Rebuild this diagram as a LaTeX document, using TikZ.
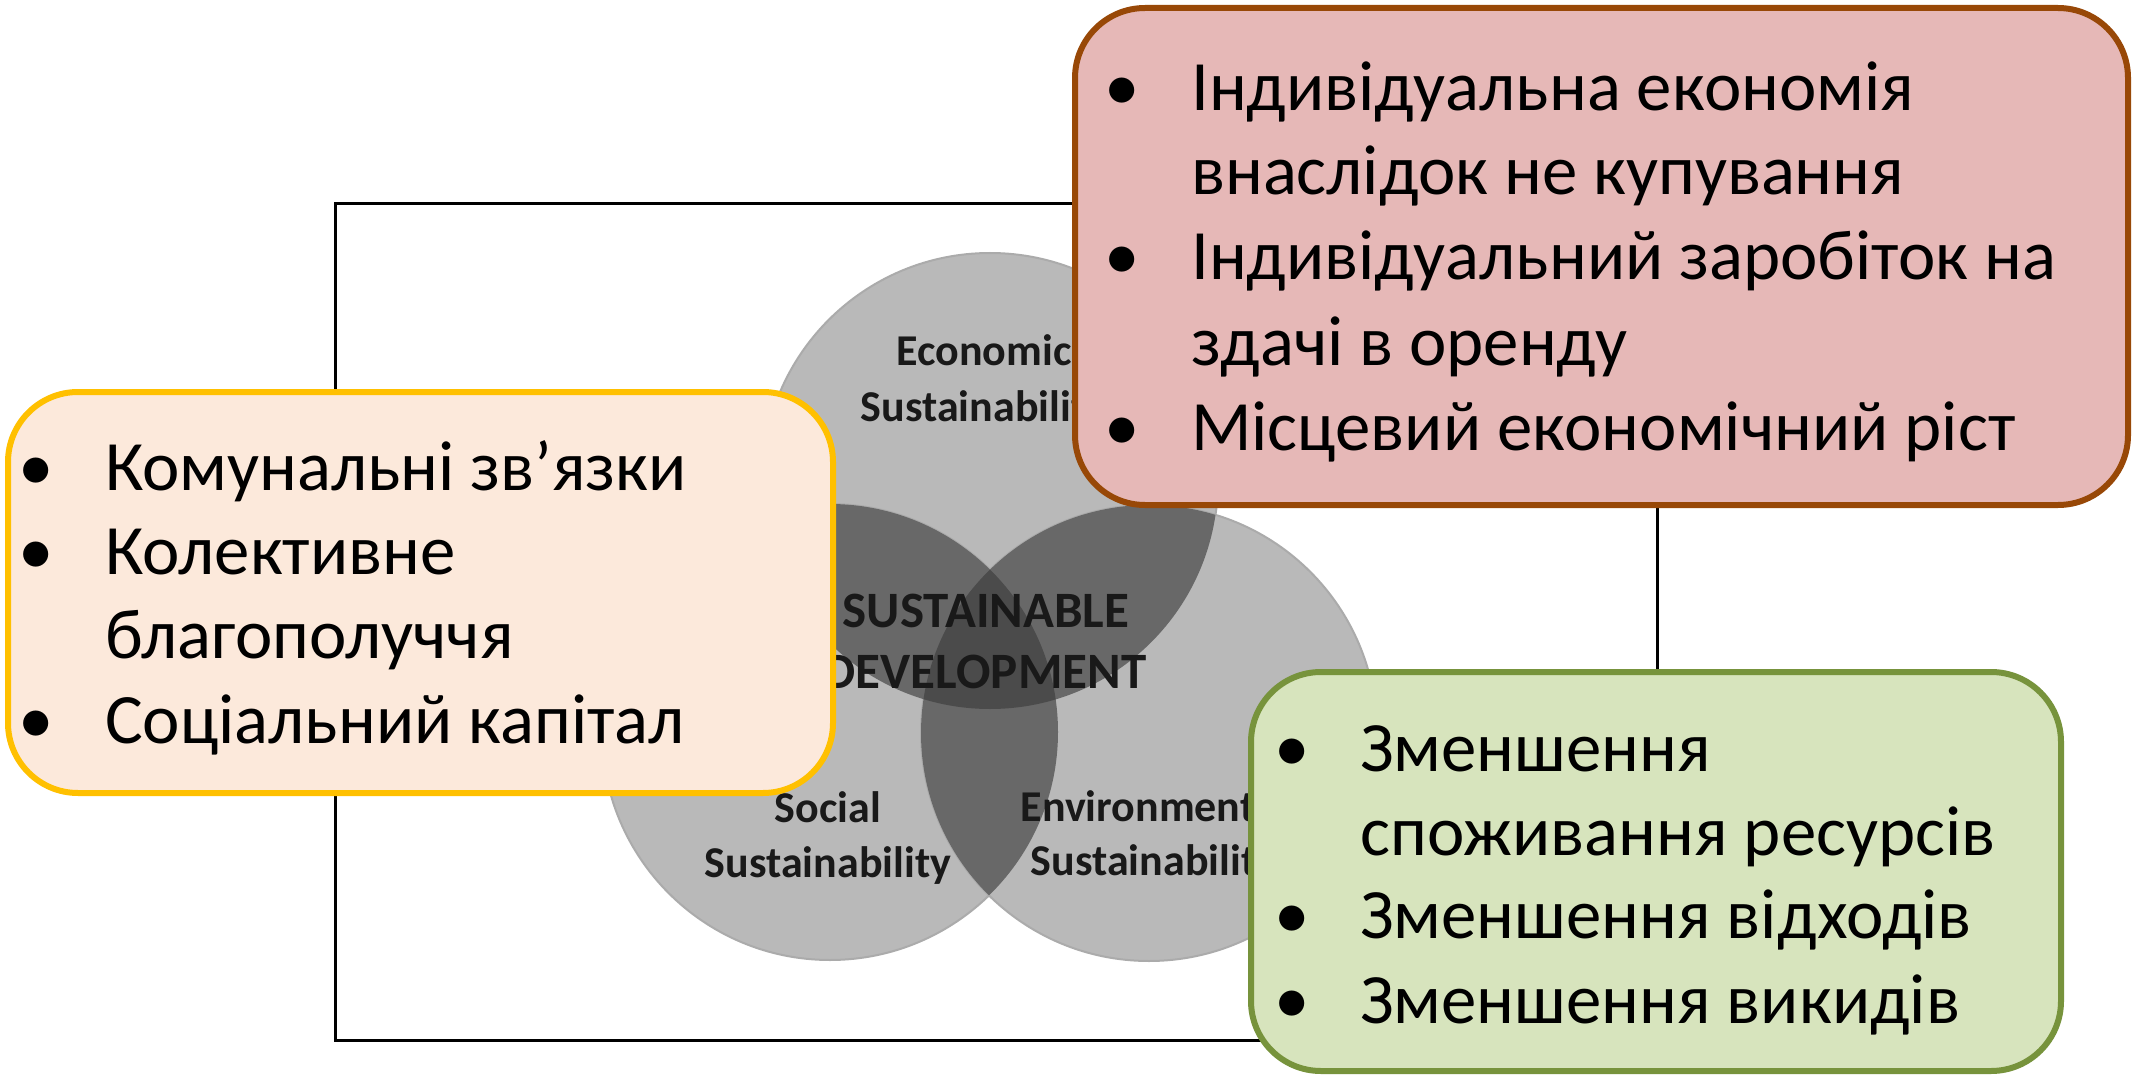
\documentclass[tikz,border=0pt]{standalone}
\usepackage{fontspec}
\setmainfont{Carlito}
\definecolor{cone}{HTML}{B9B9B9}
\definecolor{cedge}{HTML}{ABABAB}
\definecolor{ctwo}{HTML}{686868}
\definecolor{cthree}{HTML}{4B4B4B}
\definecolor{peachfill}{HTML}{FCE9DB}
\definecolor{peachdraw}{HTML}{FFC000}
\definecolor{redfill}{HTML}{E6B8B7}
\definecolor{reddraw}{HTML}{984807}
\definecolor{greenfill}{HTML}{D7E4BD}
\definecolor{greendraw}{HTML}{77933C}
\begin{document}
\begin{tikzpicture}[x=1pt,y=-1pt,
  box/.style={draw, line width=6pt, rounded corners=70pt, inner sep=0pt},
  bul/.style={anchor=base, inner sep=0pt, font=\fontsize{71}{84}\selectfont},
  item/.style={anchor=base west, inner sep=0pt, font=\fontsize{70.8}{84}\selectfont},
  vlab/.style={font=\fontsize{44}{50}\selectfont\bfseries, text=black!90, inner sep=0pt, anchor=base},
  clab/.style={font=\fontsize{51}{56}\selectfont\bfseries, text=black!90, inner sep=0pt, anchor=base},
]
\useasboundingbox (0,0) rectangle (2134,1075);
\fill[white] (0,0) rectangle (2134,1075);
% frame
\draw[line width=3pt] (335,204) rectangle (1657,1040);
% circles
\coordinate (E) at (990,481);
\coordinate (S) at (830,732);
\coordinate (V) at (1149,733);
\def\rr{228pt}
\fill[cone, draw=cedge, line width=2pt] (E) circle[radius=\rr];
\fill[cone, draw=cedge, line width=2pt] (S) circle[radius=\rr];
\fill[cone, draw=cedge, line width=2pt] (V) circle[radius=\rr];
\begin{scope}
  \clip (E) circle[radius=\rr];
  \fill[ctwo] (S) circle[radius=\rr];
  \fill[ctwo] (V) circle[radius=\rr];
\end{scope}
\begin{scope}
  \clip (S) circle[radius=\rr];
  \fill[ctwo] (V) circle[radius=\rr];
\end{scope}
\begin{scope}
  \clip (E) circle[radius=\rr];
  \clip (S) circle[radius=\rr];
  \fill[cthree] (V) circle[radius=\rr];
\end{scope}
% circle labels
\node[vlab] (ecoA) at (984,366) {Economic};
\node[vlab] (ecoB) at (984,421) {Sustainability};
\node[vlab] (socA) at (828,822) {Social};
\node[vlab] (socB) at (828,877) {Sustainability};
\node[vlab] (envA) at (1154,821) {Environmental};
\node[vlab] (envB) at (1154,875) {Sustainability};
\node[clab] (sdA) at (986,627) {SUSTAINABLE};
\node[clab] (sdB) at (985,688) {DEVELOPMENT};
% boxes
\node[box, fill=peachfill, draw=peachdraw, minimum width=825pt, minimum height=401pt] (soc) at (420.5,592.5) {};
\node[box, fill=redfill, draw=reddraw, minimum width=1053pt, minimum height=497pt] (eco) at (1601.5,256.5) {};
\node[box, fill=greenfill, draw=greendraw, minimum width=810pt, minimum height=399pt] (env) at (1656,871.5) {};
% social list
\node[bul] (sb1) at (36,490) {•};
\node[item] (st1) at (105,490) {Комунальні зв’язки};
\node[bul] (sb2) at (36,574) {•};
\node[item] (st2) at (105,574) {Колективне};
\node[item] (st3) at (105,658) {благополуччя};
\node[bul] (sb4) at (36,743) {•};
\node[item] (st4) at (105,743) {Соціальний капітал};
% economic list
\node[bul] (eb1) at (1122,111) {•};
\node[item] (et1) at (1191,111) {Індивідуальна економія};
\node[item] (et2) at (1191,195) {внаслідок не купування};
\node[bul] (eb3) at (1122,280) {•};
\node[item] (et3) at (1191,280) {Індивідуальний заробіток на};
\node[item] (et4) at (1191,365) {здачі в оренду};
\node[bul] (eb5) at (1122,450) {•};
\node[item] (et5) at (1191,450) {Місцевий економічний ріст};
% environmental list
\node[bul] (vb1) at (1292,771) {•};
\node[item] (vt1) at (1360,771) {Зменшення};
\node[item] (vt2) at (1360,855) {споживання ресурсів};
\node[bul] (vb3) at (1292,938) {•};
\node[item] (vt3) at (1360,938) {Зменшення відходів};
\node[bul] (vb4) at (1292,1023) {•};
\node[item] (vt4) at (1360,1023) {Зменшення викидів};
\end{tikzpicture}
\end{document}
